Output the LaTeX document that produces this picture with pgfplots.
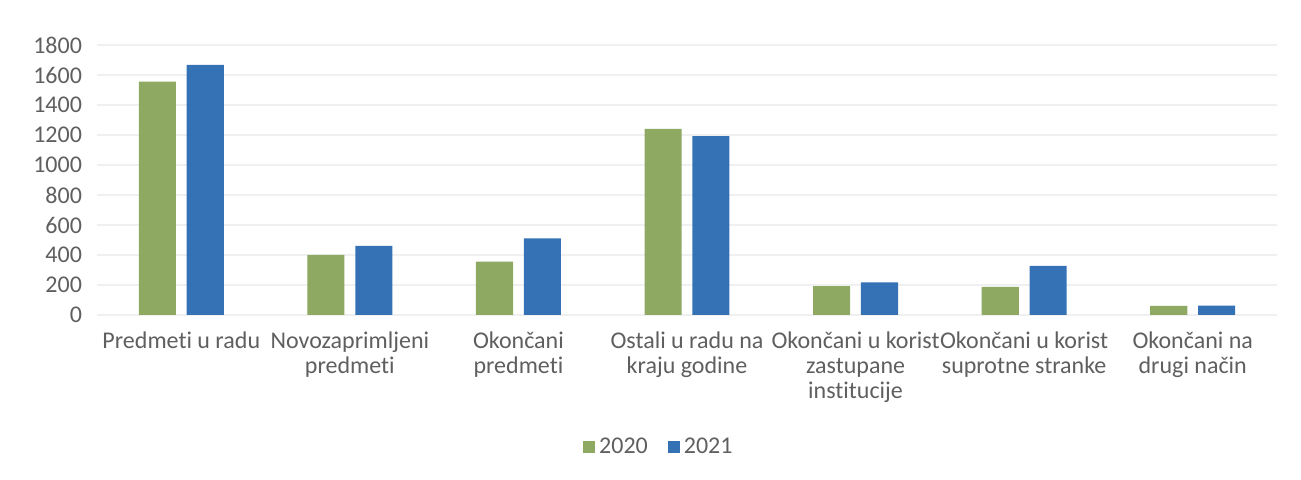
\documentclass[border=0pt]{standalone}
\usepackage{fontspec}
\setmainfont{Carlito}[RawFeature={-liga;-clig;-calt}]
\usepackage{pgfplots}
\pgfplotsset{compat=1.18}
\definecolor{g20}{HTML}{8DA962}
\definecolor{b21}{HTML}{3472B5}
\definecolor{txt}{HTML}{5F5F5F}
\definecolor{grd}{HTML}{F0F0F0}

\begin{document}
\begin{tikzpicture}
% canvas 1301x480 px, 1 px = 0.5pt; plot area bottom-left at (97,315) px
\path (-48.5pt,-82.5pt) rectangle (602pt,157.5pt);
\begin{axis}[
  at={(0pt,0pt)}, anchor=south west,
  scale only axis,
  width=590pt, height=135pt,
  xmin=-0.5, xmax=6.5,
  ymin=0, ymax=1800,
  ytick={0,200,...,1800},
  xtick={0,...,6},
  xticklabels={
    Predmeti u radu,
    Novozaprimljeni\\predmeti,
    Okončani\\predmeti,
    Ostali u radu na\\kraju godine,
    Okončani u korist\\zastupane\\institucije,
    Okončani u korist\\suprotne stranke,
    Okončani na\\drugi način},
  xticklabel style={align=center, font=\fontsize{12}{12.5}\selectfont, text=txt, yshift=-5pt},
  yticklabel style={font=\fontsize{12}{12}\selectfont, text=txt, xshift=-4pt},
  /pgf/number format/assume math mode=true,
  /pgf/number format/1000 sep={},
  axis line style={draw=none},
  major tick length=0pt,
  ymajorgrids, grid style={grd, line width=0.8pt},
  bar width=0.22,
  legend style={at={(0.477,-0.49)}, anchor=center, draw=none, fill=none,
    legend columns=2, font=\fontsize{12}{12}\selectfont, text=txt,
    /tikz/every even column/.append style={column sep=8pt}},
  legend image code/.code={\fill[#1] (0pt,-3pt) rectangle (6pt,3pt);},
]
\addplot[ybar, fill=g20, draw=none, bar shift=-0.142] coordinates {
  (0,1555) (1,400) (2,355) (3,1240) (4,193) (5,187) (6,60)};
\addlegendentry{2020}
\addplot[ybar, fill=b21, draw=none, bar shift=0.142] coordinates {
  (0,1667) (1,460) (2,511) (3,1193) (4,218) (5,327) (6,62)};
\addlegendentry{2021}
\end{axis}
\end{tikzpicture}
\end{document}
